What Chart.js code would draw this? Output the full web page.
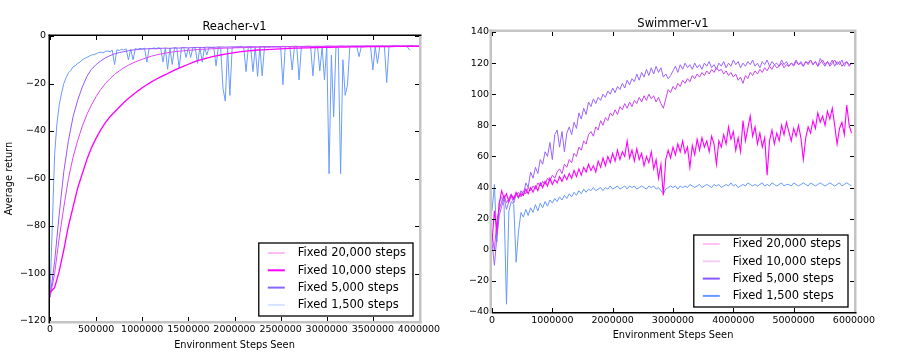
<!DOCTYPE html>
<html><head><meta charset="utf-8">
<script src="https://cdn.jsdelivr.net/npm/chart.js@4"></script>
<style>
html,body{margin:0;padding:0;background:#fff;width:900px;height:356px;overflow:hidden}
.box{position:absolute;top:0;width:450px;height:356px}
</style></head><body>
<div class="box" style="left:0"><canvas id="c1" width="450" height="356"></canvas></div>
<div class="box" style="left:450px"><canvas id="c2" width="450" height="356"></canvas></div>
<script>
// ---------- DATA ----------
const seriesLabels = ['Fixed 20,000 steps','Fixed 10,000 steps','Fixed 5,000 steps','Fixed 1,500 steps'];

const reacherXTicks = [0,500000,1000000,1500000,2000000,2500000,3000000,3500000,4000000];
const reacherYTicks = [-120,-100,-80,-60,-40,-20,0];
const reacherCoarseStep = 50000;   // sampling interval of the 20k/10k/5k runs
const reacherFineStep = 25000;     // sampling interval of the 1,500 run

const reacher20000 = [-108,-106,-99,-90,-80,-72,-64,-58,-52,-47,-43,-39.5,-36.5,-34,-32,-30,-28,-26.3,-24.7,-23.2,
 -21.8,-20.5,-19.3,-18.2,-17.2,-16.3,-15.3,-14.4,-13.5,-12.7,-11.9,-11.1,-10.4,-9.8,-9.3,-8.8,-8.4,-8,-7.6,-7.3,
 -7,-6.7,-6.5,-6.3,-6.1,-5.9,-5.8,-5.7,-5.6,-5.5,-5.4,-5.3,-5.2,-5.1,-5.1,-5,-5,-4.9,-4.9,-4.8,
 -4.8,-4.8,-4.7,-4.7,-4.7,-4.6,-4.6,-4.6,-4.6,-4.5,-4.5,-4.5,-4.5,-4.5,-4.5,-4.4,-4.4,-4.4,-4.4,-4.4,-4.4];
const reacher10000 = [-110,-100,-85,-72,-60,-51,-44,-38,-33,-29,-25.5,-22.5,-20,-18,-16.2,-14.7,-13.4,-12.3,-11.3,-10.5,
 -9.8,-9.1,-8.5,-8,-7.6,-7.2,-6.9,-6.6,-6.4,-6.2,-6,-5.9,-5.7,-5.6,-5.5,-5.4,-5.3,-5.2,-5.1,-5.1,
 -5,-4.9,-4.9,-4.8,-4.8,-4.7,-4.7,-4.7,-4.6,-4.6,-4.6,-4.5,-4.5,-4.5,-4.5,-4.4,-4.4,-4.4,-4.4,-4.4,
 -4.3,-4.3,-4.3,-4.3,-4.3,-4.3,-4.3,-4.2,-4.2,-4.2,-4.2,-4.2,-4.2,-4.2,-4.2,-4.2,-4.2,-4.2,-4.2,-4.2,-4.2];
const reacher5000 = [-110,-95,-75,-57,-44,-34,-27,-21.5,-17,-14,-12,-10.5,-9.2,-8.3,-7.5,-7,-6.6,-6.2,-5.9,-5.7,
 -5.5,-5.4,-5.3,-5.4,-5.2,-5.1,-5.2,-5,-5.1,-4.9,-5,-4.9,-4.8,-4.9,-4.7,-4.8,-4.7,-4.6,-4.7,-4.6,
 -4.6,-4.5,-4.6,-4.5,-4.5,-4.6,-4.4,-4.5,-4.4,-4.5,-4.4,-4.4,-4.5,-4.3,-4.4,-4.4,-4.3,-4.4,-4.3,-4.4,
 -4.3,-4.3,-4.4,-4.2,-4.3,-4.3,-4.2,-4.3,-4.3,-4.2,-4.3,-4.2,-4.2,-4.3,-4.2,-4.2,-4.3,-4.2,-4.1,-4.2,-4.2];
const reacher1500 = [-108,-80,-50,-37,-29,-24,-20,-17.5,-15.5,-14.5,-13,-12.5,-11.5,-11,-10,-9.5,-9,-8.5,-8,-7.8,
 -7.5,-7,-6.8,-7.1,-6.5,-6.3,-6.6,-6,-12,-5.8,-6.1,-5.6,-5.9,-5.4,-10,-5.5,-10,-5.3,-5.6,-5.2,
 -5.5,-5.1,-11,-5.2,-5.4,-5,-5.3,-4.9,-5.2,-11,-5,-14,-5.1,-12,-4.9,-5.2,-13.5,-5,-4.8,-9,
 -5,-9,-4.8,-5.1,-11.5,-4.9,-11,-4.8,-8,-4.7,-5,-4.8,-12.6,-4.7,-4.9,-22,-27.4,-5,-25,-4.8,
 -4.6,-4.9,-4.7,-4.5,-4.8,-15,-4.6,-4.5,-15,-4.7,-17,-4.5,-16.8,-4.6,-4.4,-4.7,-4.5,-4.6,-4.4,-4.5,
 -4.7,-20.5,-4.5,-4.4,-4.6,-14.3,-4.5,-4.4,-18.5,-4.5,-4.6,-4.4,-4.5,-4.3,-16.8,-4.5,-4.4,-14.7,-4.5,-18.5,
 -4.4,-58,-8,-34,-4.5,-5,-58,-10,-25,-20.6,-4.5,-4.4,-4.6,-4.3,-8.7,-4.4,-4.5,-4.3,-4.4,-4.5,
 -14.3,-4.4,-11.5,-4.3,-4.4,-4.5,-19.6,-4.3,-4.4,-4.2,-4.4,-4.3,-4.5,-4.3,-4.4,-4.6,-6];

const swimmerXTicks = [0,1000000,2000000,3000000,4000000,5000000,6000000];
const swimmerYTicks = [-40,-20,0,20,40,60,80,100,120,140];
const swimmerStep = 40000;

const swimmer20000 = [5,25,12,30,38,33,36,31,35,33,
 37,34,36,35,39,36,40,37,41,38,
 43,40,44,41,46,42,45,43,47,44,
 48,45,49,46,51,47,52,48,53,50,
 55,51,54,50,57,53,59,54,60,56,
 62,57,64,58,63,60,70,59,64,57,
 65,58,62,54,60,56,63,52,58,46,
 55,35,58,64,59,66,61,68,63,70,
 62,66,53,67,61,71,64,72,66,70,
 63,73,68,55,70,66,74,68,79,71,
 76,64,72,63,83,70,78,86,73,79,
 68,75,66,72,48,70,77,68,75,70,
 80,74,82,76,70,78,73,80,72,58,
 72,79,75,83,78,88,82,86,80,89,
 84,91,80,68,78,82,74,93,80,75];
const swimmer10000 = [10,0,18,26,31,35,30,33,36,32,
 35,37,34,38,36,40,38,41,39,43,
 41,44,42,46,44,48,46,50,52,49,
 55,53,58,56,62,60,66,64,70,68,
 74,76,73,79,77,83,80,85,83,88,
 86,90,87,92,90,94,91,95,92,96,
 94,98,95,99,96,100,97,99,95,98,
 94,91,97,103,101,105,103,107,105,109,
 107,110,108,112,110,113,111,114,112,115,
 113,116,114,117,115,116,113,115,112,114,
 111,113,109,111,107,112,110,114,112,115,
 113,116,114,117,115,118,116,119,117,118,
 120,117,119,118,120,118,121,119,120,118,
 121,119,122,119,121,118,120,122,119,121,
 118,120,122,119,121,118,120,121,118,120];
const swimmer5000 = [5,-10,8,22,28,33,26,31,35,30,
 36,33,38,35,43,40,50,46,53,49,
 58,55,63,60,69,58,74,77,66,76,
 63,75,79,74,82,78,88,84,91,87,
 95,92,97,94,98,96,100,98,102,100,
 104,101,105,103,107,104,109,106,110,108,
 113,109,114,111,116,112,117,113,118,114,
 117,111,113,110,112,115,118,114,119,116,
 120,117,119,116,120,117,119,116,120,118,
 121,117,119,116,120,118,121,117,120,118,
 122,119,121,117,120,118,121,119,122,118,
 120,117,121,119,122,118,121,119,120,118,
 122,119,121,118,120,119,122,119,121,118,
 121,120,122,119,121,118,123,120,118,121,
 119,122,118,121,119,122,118,121,119,120];
const swimmer1500 = [25,42,5,30,34,28,-35,25,31,29,
 -8,12,24,21,26,22,27,24,29,25,
 30,27,31,28,32,30,33,31,34,32,
 35,33,36,34,37,35,38,36,39,37,
 39,38,40,38,39,40,38,40,39,41,
 39,40,41,39,40,41,39,41,40,41,
 39,40,41,40,39,41,40,41,39,40,
 38,36,39,40,41,40,41,39,41,40,
 41,40,42,41,40,41,42,40,41,42,
 41,40,42,41,42,40,41,42,41,43,
 41,42,40,41,42,41,43,42,41,42,
 41,42,43,41,42,41,43,42,41,42,
 43,41,42,42,41,43,42,41,42,43,
 42,41,43,42,41,42,43,42,41,42,
 43,42,41,42,43,41,42,43,42,41];

// ---------- HELPERS ----------
Chart.defaults.font.family = "'DejaVu Sans', sans-serif";
Chart.defaults.color = '#000';
const minus = v => String(v).replace('-', '\u2212');
const pts = (vals, step) => vals.map((v, i) => ({x: i * step, y: v}));

const framePlugin = {
  id: 'frame',
  afterDatasetsDraw(chart, args, o) {
    const {ctx, chartArea: a, scales: {x, y}} = chart;
    ctx.save();
    ctx.strokeStyle = '#000'; ctx.lineWidth = 1;
    x.ticks.forEach(t => {
      const px = Math.round(x.getPixelForValue(t.value)) + 0.5;
      ctx.beginPath();
      ctx.moveTo(px, a.top); ctx.lineTo(px, a.top + 4);
      ctx.moveTo(px, a.bottom); ctx.lineTo(px, a.bottom - 4);
      ctx.stroke();
    });
    y.ticks.forEach(t => {
      const py = Math.round(y.getPixelForValue(t.value)) + 0.5;
      ctx.beginPath();
      ctx.moveTo(a.left, py); ctx.lineTo(a.left + 4, py);
      ctx.moveTo(a.right, py); ctx.lineTo(a.right - 4, py);
      ctx.stroke();
    });
    const side = (c, w, x1, y1, x2, y2) => {
      ctx.strokeStyle = c; ctx.lineWidth = w;
      ctx.beginPath(); ctx.moveTo(x1, y1); ctx.lineTo(x2, y2); ctx.stroke();
    };
    const b = o.border;
    side(b.right[0], b.right[1], a.right + b.right[1] / 2, a.top, a.right + b.right[1] / 2, a.bottom + b.bottom[1]);
    side(b.bottom[0], b.bottom[1], a.left, a.bottom + b.bottom[1] / 2, a.right + b.right[1], a.bottom + b.bottom[1] / 2);
    side(b.left[0], b.left[1], a.left - b.left[1] / 2, a.top - b.top[1], a.left - b.left[1] / 2, a.bottom + b.bottom[1]);
    side(b.top[0], b.top[1], a.left - b.left[1], a.top - b.top[1] / 2, a.right + b.right[1], a.top - b.top[1] / 2);
    ctx.fillStyle = '#000';
    ctx.font = o.titleFont;
    ctx.textAlign = 'center'; ctx.textBaseline = 'middle';
    ctx.fillText(o.title, (a.left + a.right) / 2, a.top - o.titleGap);
    ctx.font = o.legendFont;
    const ds = chart.data.datasets;
    const tw = Math.max(...ds.map(d => ctx.measureText(d.label).width));
    const bw = 39 + tw + 7, bh = o.legendHeight;
    const bx = a.right - o.legendRight - bw, by = a.bottom - o.legendBottom - bh;
    ctx.fillStyle = '#fff';
    ctx.fillRect(bx, by, bw, bh);
    ctx.strokeStyle = '#000'; ctx.lineWidth = 1.3;
    ctx.strokeRect(bx, by, bw, bh);
    ds.forEach((d, i) => {
      const cy = by + o.legendFirst + i * o.legendRow;
      ctx.strokeStyle = d.legendColor; ctx.lineWidth = 2;
      ctx.beginPath(); ctx.moveTo(bx + 9, cy); ctx.lineTo(bx + 26, cy); ctx.stroke();
      ctx.fillStyle = '#000'; ctx.textAlign = 'left'; ctx.textBaseline = 'middle';
      ctx.fillText(d.label, bx + 39, cy + 0.5);
    });
    ctx.restore();
  }
};

function makeChart(id, cfg) {
  return new Chart(document.getElementById(id), {
    type: 'line',
    data: {datasets: cfg.datasets},
    options: {
      responsive: false, animation: false, devicePixelRatio: 1,
      layout: {padding: cfg.padding},
      elements: {point: {radius: 0}, line: {tension: 0}},
      plugins: {legend: {display: false}, tooltip: {enabled: false}, title: {display: false},
        frame: cfg.frame},
      scales: {
        x: {type: 'linear', min: cfg.xTicks[0], max: cfg.xTicks[cfg.xTicks.length - 1],
          afterBuildTicks: s => { s.ticks = cfg.xTicks.map(v => ({value: v})); },
          afterFit: s => { s.height = cfg.xHeight; },
          grid: {display: false, drawTicks: false}, border: {display: false},
          ticks: {autoSkip: false, maxRotation: 0, padding: cfg.xPad, font: {size: 9.5},
            callback: v => minus(v)},
          title: {display: true, text: 'Environment Steps Seen', font: {size: 9.8}, padding: {top: 0, bottom: 5}}
        },
        y: {type: 'linear', min: cfg.yTicks[0], max: cfg.yTicks[cfg.yTicks.length - 1],
          afterBuildTicks: s => { s.ticks = cfg.yTicks.map(v => ({value: v})); },
          afterFit: s => { s.width = cfg.yWidth; },
          grid: {display: false, drawTicks: false}, border: {display: false},
          ticks: {autoSkip: false, padding: cfg.yPad, font: {size: 9.5}, callback: v => minus(v)},
          title: cfg.yTitle
        }
      }
    },
    plugins: [framePlugin]
  });
}

makeChart('c1', {
  padding: {left: 0, top: 36, right: 31, bottom: 0},
  xTicks: reacherXTicks, yTicks: reacherYTicks, xHeight: 35, yWidth: 50, xPad: 3, yPad: 4,
  yTitle: {display: true, text: 'Average return', font: {size: 9.8}, padding: {top: 4, bottom: 0}},
  frame: {title: 'Reacher-v1', titleFont: "11.5px 'DejaVu Sans'", titleGap: 9,
    legendFont: "11.5px 'DejaVu Sans'", legendRight: 6, legendBottom: 5, legendHeight: 73,
    legendFirst: 10, legendRow: 17.3,
    border: {left: ['#000', 1.5], top: ['#000', 1.5], right: ['#c4c4c4', 2.5], bottom: ['#c4c4c4', 2.5]}},
  datasets: [
    {label: seriesLabels[0], data: pts(reacher20000, reacherCoarseStep), borderColor: '#ff00ff', borderWidth: 1.3, legendColor: '#ffbdf6'},
    {label: seriesLabels[1], data: pts(reacher10000, reacherCoarseStep), borderColor: '#dd44f8', borderWidth: 1, legendColor: '#ff00ff'},
    {label: seriesLabels[2], data: pts(reacher5000, reacherCoarseStep), borderColor: '#9a55ff', borderWidth: 1, legendColor: '#8a66ff'},
    {label: seriesLabels[3], data: pts(reacher1500, reacherFineStep), borderColor: '#6a9cff', borderWidth: 1, legendColor: '#d6e3ff'}
  ]
});

makeChart('c2', {
  padding: {left: 0, top: 32, right: 46, bottom: 10},
  xTicks: swimmerXTicks, yTicks: swimmerYTicks, xHeight: 34, yWidth: 42, xPad: 3, yPad: 3,
  yTitle: {display: false},
  frame: {title: 'Swimmer-v1', titleFont: "11.5px 'DejaVu Sans'", titleGap: 8,
    legendFont: "11.5px 'DejaVu Sans'", legendRight: 6, legendBottom: 5, legendHeight: 72,
    legendFirst: 9, legendRow: 17.3,
    border: {left: ['#c4c4c4', 2.5], top: ['#c4c4c4', 2.5], right: ['#c4c4c4', 2.5], bottom: ['#000', 1.5]}},
  datasets: [
    {label: seriesLabels[0], data: pts(swimmer20000, swimmerStep), borderColor: '#ff00ff', borderWidth: 1.1, legendColor: '#ffc2f2'},
    {label: seriesLabels[1], data: pts(swimmer10000, swimmerStep), borderColor: '#cc44f0', borderWidth: 1, legendColor: '#f6cdf6'},
    {label: seriesLabels[2], data: pts(swimmer5000, swimmerStep), borderColor: '#9966ff', borderWidth: 1, legendColor: '#8855ff'},
    {label: seriesLabels[3], data: pts(swimmer1500, swimmerStep), borderColor: '#6699ff', borderWidth: 1, legendColor: '#6699ff'}
  ]
});
</script>
</body></html>
